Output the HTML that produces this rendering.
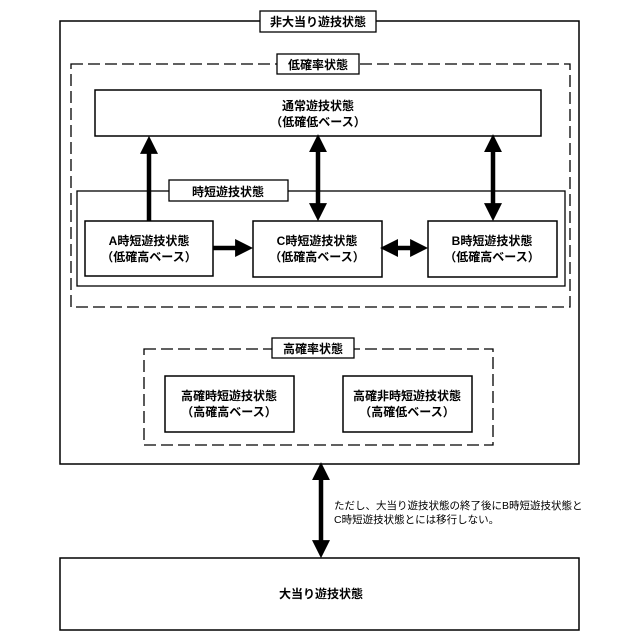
<!DOCTYPE html>
<html><head><meta charset="utf-8"><style>
html,body{margin:0;padding:0;background:#fff;}
svg{display:block;}
text{font-family:"Liberation Sans","Noto Sans CJK JP",sans-serif;font-weight:bold;font-size:12px;fill:#000;text-anchor:middle;}
.n{font-weight:normal;font-size:10.5px;text-anchor:start;}
</style></head><body>
<svg width="640" height="640" viewBox="0 0 640 640" xmlns="http://www.w3.org/2000/svg">
<defs>
<marker id="ah" markerWidth="4" markerHeight="4" refX="2.2" refY="2" orient="auto" markerUnits="strokeWidth">
<path d="M0,0 L4,2 L0,4 z" fill="#000"/></marker>
<marker id="as" markerWidth="4" markerHeight="4" refX="1.8" refY="2" orient="auto-start-reverse" markerUnits="strokeWidth">
<path d="M0,0 L4,2 L0,4 z" fill="#000"/></marker>
</defs>
<g fill="none" stroke="#000">
<!-- outer -->
<rect x="60" y="21" width="519" height="443" stroke-width="1.5"/>
<!-- low prob dashed -->
<rect x="71" y="64" width="499" height="243" stroke-width="1.3" stroke-dasharray="12,5"/>
<!-- normal -->
<rect x="95" y="90" width="446" height="46" stroke-width="1.5"/>
<!-- jitan -->
<rect x="77" y="191" width="488" height="95" stroke-width="1.3"/>
<rect x="85" y="221" width="128" height="55" stroke-width="1.5"/>
<rect x="253" y="221" width="129" height="56" stroke-width="1.5"/>
<rect x="428" y="221" width="129" height="56" stroke-width="1.5"/>
<!-- high prob dashed -->
<rect x="144" y="349" width="349" height="96" stroke-width="1.3" stroke-dasharray="12,5"/>
<rect x="165" y="376" width="129" height="56" stroke-width="1.5"/>
<rect x="343" y="376" width="129" height="56" stroke-width="1.5"/>
<!-- bottom -->
<rect x="60" y="558" width="519" height="72" stroke-width="1.5"/>
</g>
<!-- title boxes -->
<g fill="#fff" stroke="#000" stroke-width="1.3">
<rect x="260" y="11" width="116" height="21"/>
<rect x="277" y="54" width="82" height="20"/>
<rect x="169" y="180" width="119" height="21"/>
<rect x="272" y="338" width="82" height="20"/>
</g>
<!-- arrows -->
<g stroke="#000" stroke-width="4.5" fill="none">
<line x1="149" y1="221" x2="149" y2="144" marker-end="url(#ah)"/>
<line x1="318" y1="144" x2="318" y2="213" marker-start="url(#as)" marker-end="url(#ah)"/>
<line x1="493" y1="144" x2="493" y2="213" marker-start="url(#as)" marker-end="url(#ah)"/>
<line x1="213" y1="248" x2="245" y2="248" marker-end="url(#ah)"/>
<line x1="390" y1="248" x2="420" y2="248" marker-start="url(#as)" marker-end="url(#ah)"/>
<line x1="321" y1="472" x2="321" y2="550" marker-start="url(#as)" marker-end="url(#ah)"/>
</g>
<text x="318" y="26">非大当り遊技状態</text>
<text x="318" y="69">低確率状態</text>
<text x="228" y="196">時短遊技状態</text>
<text x="313" y="353">高確率状態</text>
<text x="318" y="110">通常遊技状態</text>
<text x="318" y="126">（低確低ベース）</text>
<text x="149" y="245">A時短遊技状態</text>
<text x="149" y="261">（低確高ベース）</text>
<text x="317" y="245">C時短遊技状態</text>
<text x="317" y="261">（低確高ベース）</text>
<text x="492" y="245">B時短遊技状態</text>
<text x="492" y="261">（低確高ベース）</text>
<text x="229" y="400">高確時短遊技状態</text>
<text x="229" y="416">（高確高ベース）</text>
<text x="407" y="400">高確非時短遊技状態</text>
<text x="407" y="416">（高確低ベース）</text>
<text x="321" y="598">大当り遊技状態</text>
<text class="n" x="334" y="509">ただし、大当り遊技状態の終了後にB時短遊技状態と</text>
<text class="n" x="334" y="523">C時短遊技状態とには移行しない。</text>
</svg>
</body></html>
